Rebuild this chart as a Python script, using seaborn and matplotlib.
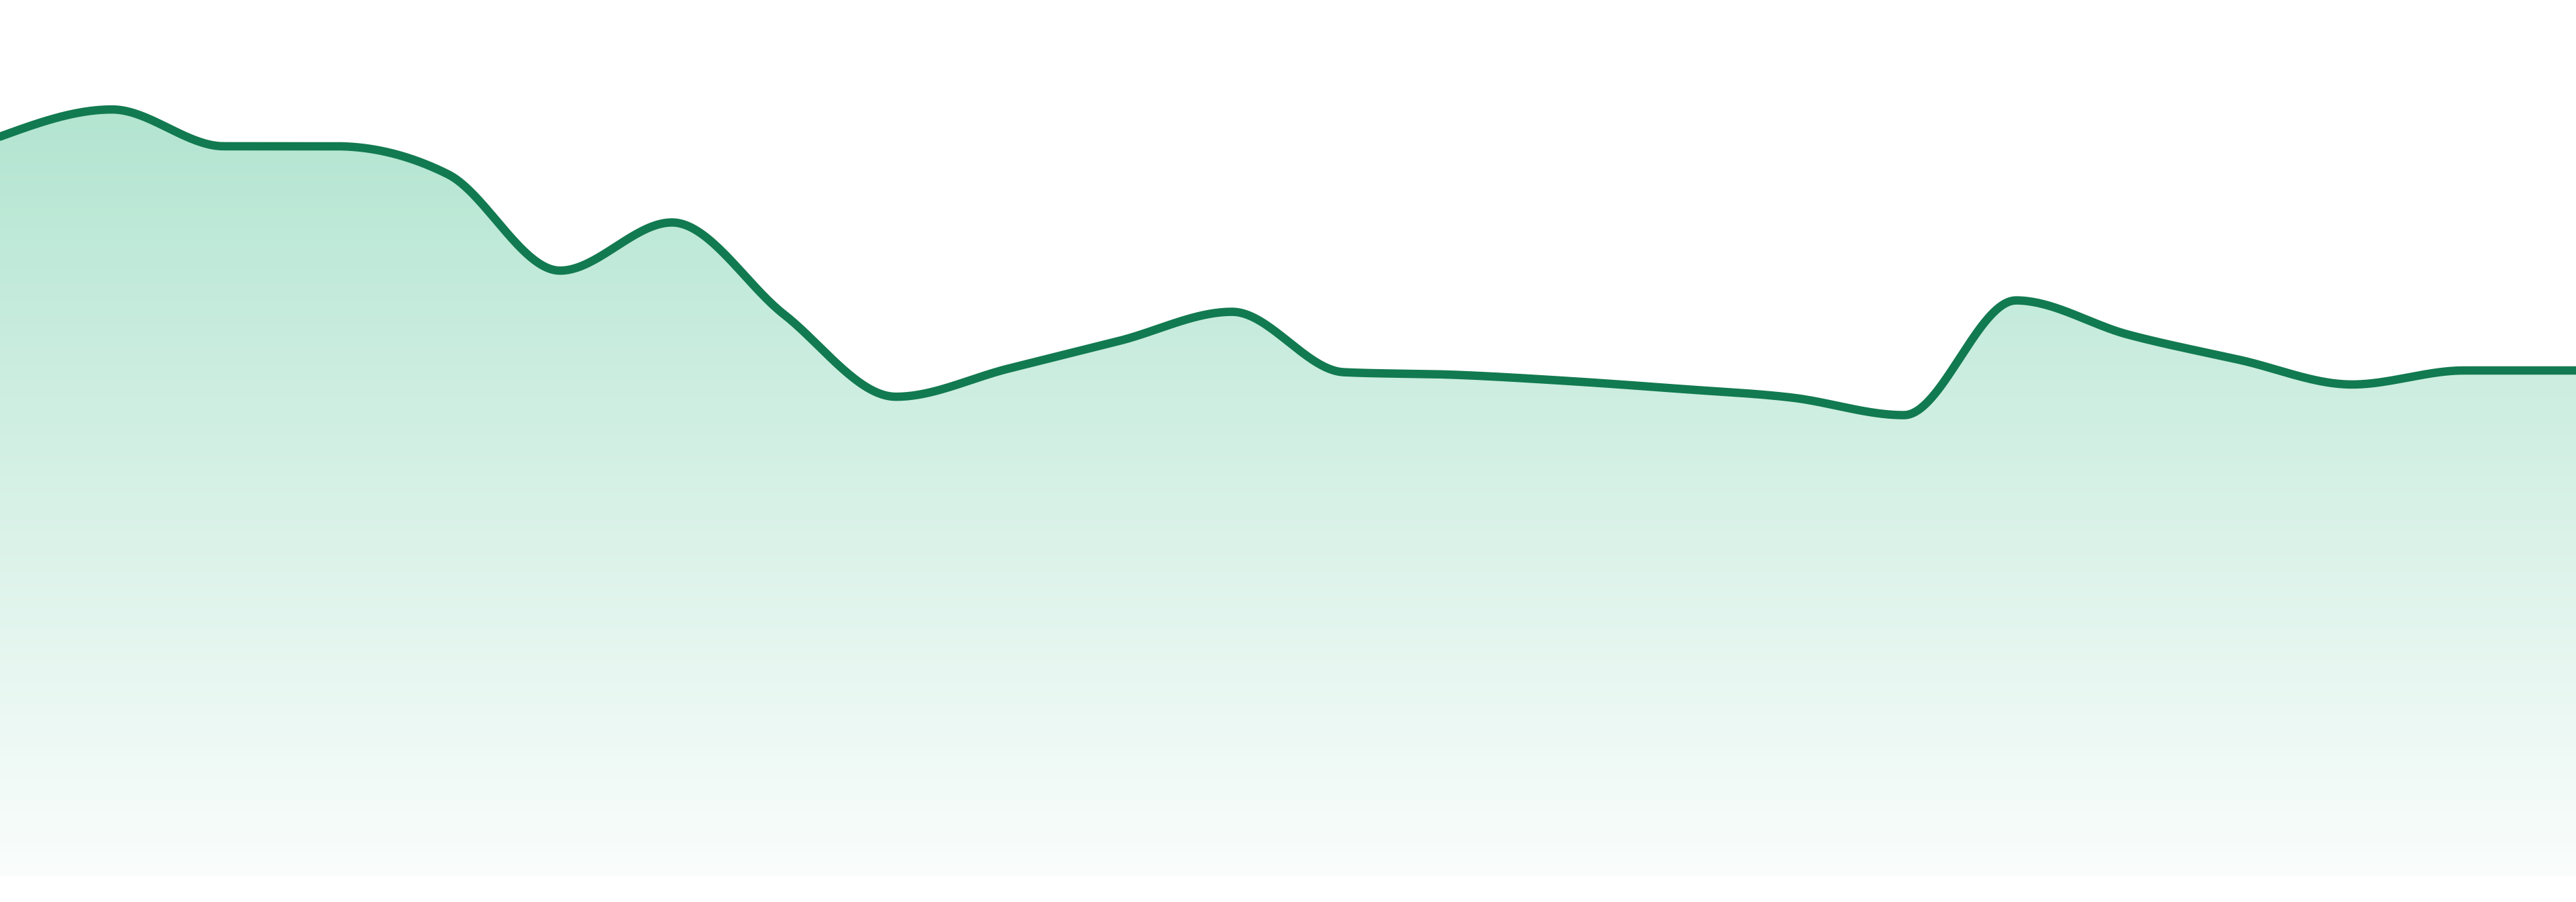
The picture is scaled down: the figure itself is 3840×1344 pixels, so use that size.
import numpy as np
import pandas as pd
import matplotlib
matplotlib.use("Agg")
import matplotlib.pyplot as plt
import seaborn as sns
from matplotlib.path import Path
from matplotlib.patches import PathPatch

# ---- data ----
index = list(range(24))
values = [84.4, 87.5, 83.3, 83.3, 80.1, 69.1, 74.6, 64.1, 54.7, 57.9, 61.1, 64.4,
          57.5, 57.2, 56.5, 55.6, 54.6, 52.6, 65.7, 61.8, 58.9, 56.1, 57.7, 57.7]

LINE_COLOR = "#127a50"
TOP_FILL = np.array([179, 229, 209]) / 255.0
BOTTOM_FILL = np.array([250, 253, 252]) / 255.0


def monotone_x(x, y, n=40):
    """d3 curveMonotoneX-style interpolation used only to draw the smooth line."""
    x = np.asarray(x, float)
    y = np.asarray(y, float)
    k = len(x)
    h = np.diff(x)
    s = np.diff(y) / h
    m = np.zeros(k)
    for i in range(1, k - 1):
        s0, s1 = s[i - 1], s[i]
        p = (s0 * h[i] + s1 * h[i - 1]) / (h[i - 1] + h[i])
        m[i] = (np.sign(s0) + np.sign(s1)) * min(abs(s0), abs(s1), 0.5 * abs(p))
    m[0] = (3 * s[0] - m[1]) / 2 if k > 2 else s[0]
    m[-1] = (3 * s[-1] - m[-2]) / 2 if k > 2 else s[-1]
    xs, ys = [], []
    for i in range(k - 1):
        t = np.linspace(0, 1, n, endpoint=(i == k - 2))
        h00 = 2 * t**3 - 3 * t**2 + 1
        h10 = t**3 - 2 * t**2 + t
        h01 = -2 * t**3 + 3 * t**2
        h11 = t**3 - t**2
        xs.append(x[i] + t * h[i])
        ys.append(h00 * y[i] + h10 * h[i] * m[i] + h01 * y[i + 1] + h11 * h[i] * m[i + 1])
    return np.concatenate(xs), np.concatenate(ys)


sx, sy = monotone_x(index, values)
curve = pd.DataFrame({"x": sx, "y": sy})

sns.set_theme(style="white")
fig = plt.figure(figsize=(38.4, 13.44), dpi=100)
ax = fig.add_axes([0, 0, 1, 1])
ax.set_xlim(0, 23)
ax.set_ylim(-2.99, 100)

# vertical gradient fill, clipped to the area under the curve
ymax = max(sy)
n = 512
grad = np.linspace(0, 1, n)[:, None]
img = TOP_FILL[None, None, :] * (1 - grad[..., None]) + BOTTOM_FILL[None, None, :] * grad[..., None]
img = np.repeat(img, 2, axis=1)
im = ax.imshow(img, extent=[0, 23, 0, ymax], origin="upper", aspect="auto", zorder=1,
               interpolation="bilinear")
vx = np.concatenate([sx, [sx[-1], sx[0], sx[0]]])
vy = np.concatenate([sy, [0, 0, sy[0]]])
codes = [Path.MOVETO] + [Path.LINETO] * (len(vx) - 2) + [Path.CLOSEPOLY]
clip = PathPatch(Path(np.column_stack([vx, vy]), codes), transform=ax.transData,
                 facecolor="none", edgecolor="none")
ax.add_patch(clip)
im.set_clip_path(clip)

sns.lineplot(data=curve, x="x", y="y", ax=ax, color=LINE_COLOR, linewidth=9.0,
             sort=False, estimator=None, zorder=3)
for line in ax.lines:
    line.set_linewidth(9.0)
    line.set_solid_capstyle("round")
    line.set_solid_joinstyle("round")

ax.set_xlim(0, 23)
ax.set_ylim(-2.99, 100)
ax.axis("off")
fig.savefig("out.png", dpi=100, facecolor="white")
